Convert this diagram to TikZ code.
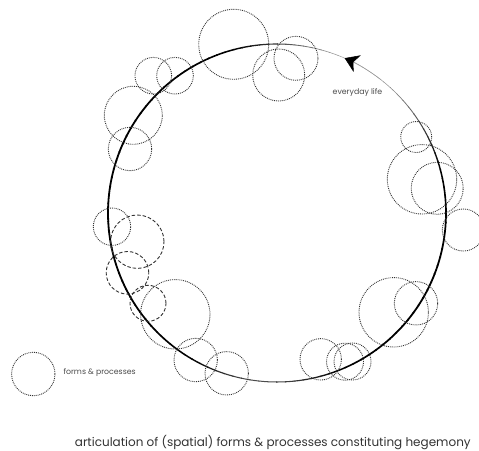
\documentclass[tikz,border=0pt]{standalone}
\usepackage{fontspec}
\setmainfont{Poppins}
\usetikzlibrary{arrows.meta}
\tikzset{
	formstyle/.style={circle,draw=black!80,line width=0.9pt,densely dotted,inner sep=0pt},
	dashstyle/.style={circle,draw=black!80,line width=0.9pt,dash pattern=on 3.5pt off 2pt,inner sep=0pt},
	labelstyle/.style={text=black!70,inner sep=0pt}
}
\begin{document}
\begin{tikzpicture}[x=1pt,y=-1pt]
	\useasboundingbox (0,0) rectangle (479,450);
	% everyday life
	\coordinate (c) at (277,213);
	\foreach \a in {0,3,...,357}{
		\pgfmathsetmacro\d{mod(\a+1.5+240,360)-180}
		\pgfmathsetmacro\w{1.8-1.35*exp(-(\d/38)^2)-0.8*exp(-((\a+1.5-95)/28)^2)}
		\pgfmathtruncatemacro\g{min(100,35+65*(\w-0.45)/1.0)}
		\draw[line width=\w pt,draw=black!\g] (c) ++(\a:169) arc[start angle=\a,end angle=\a+3.3,radius=169];
	}
	\draw[draw=black!40,line width=0.5pt,-{Stealth[length=13.6pt,width=18pt,inset=4pt,black]}] (c) ++(-52:169) arc[start angle=-52,end angle=-66.4,radius=169];
	\node[labelstyle,font=\fontsize{7.8}{9}\selectfont] (life) at (357.5,92.7) {everyday life};
	% forms & processes
	\node[formstyle,minimum size=70] (f1) at (233.7,44.3) {};
	\node[formstyle,minimum size=52] (f2) at (278.7,75) {};
	\node[formstyle,minimum size=44] (f3) at (296,58.3) {};
	\node[formstyle,minimum size=36.6] (f4) at (153.3,75.7) {};
	\node[formstyle,minimum size=36.6] (f5) at (175,75.7) {};
	\node[formstyle,minimum size=58] (f6) at (133.3,115.3) {};
	\node[formstyle,minimum size=43.4] (f7) at (130,149) {};
	\node[formstyle,minimum size=31] (f8) at (416.2,137) {};
	\node[formstyle,minimum size=69.4] (f9) at (422,179.3) {};
	\node[formstyle,minimum size=52] (f10) at (437.2,188.3) {};
	\node[formstyle,minimum size=42] (f11) at (463.3,230) {};
	\node[formstyle,minimum size=37.4] (f12) at (112,226.7) {};
	\node[dashstyle,minimum size=53.4] (d1) at (137.3,241.7) {};
	\node[dashstyle,minimum size=42.6] (d2) at (127.5,272.8) {};
	\node[dashstyle,minimum size=36] (d3) at (148,303.3) {};
	\node[formstyle,minimum size=69.4] (f13) at (175.3,314.3) {};
	\node[formstyle,minimum size=43.4] (f14) at (195.7,360) {};
	\node[formstyle,minimum size=43.4] (f15) at (226.7,373.3) {};
	\node[formstyle,minimum size=69.4] (f16) at (393.7,312.3) {};
	\node[formstyle,minimum size=43.4] (f17) at (416,303.3) {};
	\node[formstyle,minimum size=41.4] (f18) at (320.7,359.3) {};
	\node[formstyle,minimum size=37] (f19) at (345,361.7) {};
	\node[formstyle,minimum size=37] (f20) at (352.5,361.5) {};
	% legend
	\node[formstyle,minimum size=43.4] (key) at (33.3,374) {};
	\node[labelstyle,font=\fontsize{7.8}{9}\selectfont,anchor=west] (keytext) at (63.3,372.7) {forms \& processes};
	\node[labelstyle,text=black!80,font=\fontsize{12}{14}\selectfont] (title) at (272.8,442.7) {articulation of (spatial) forms \& processes constituting hegemony};
\end{tikzpicture}
\end{document}
